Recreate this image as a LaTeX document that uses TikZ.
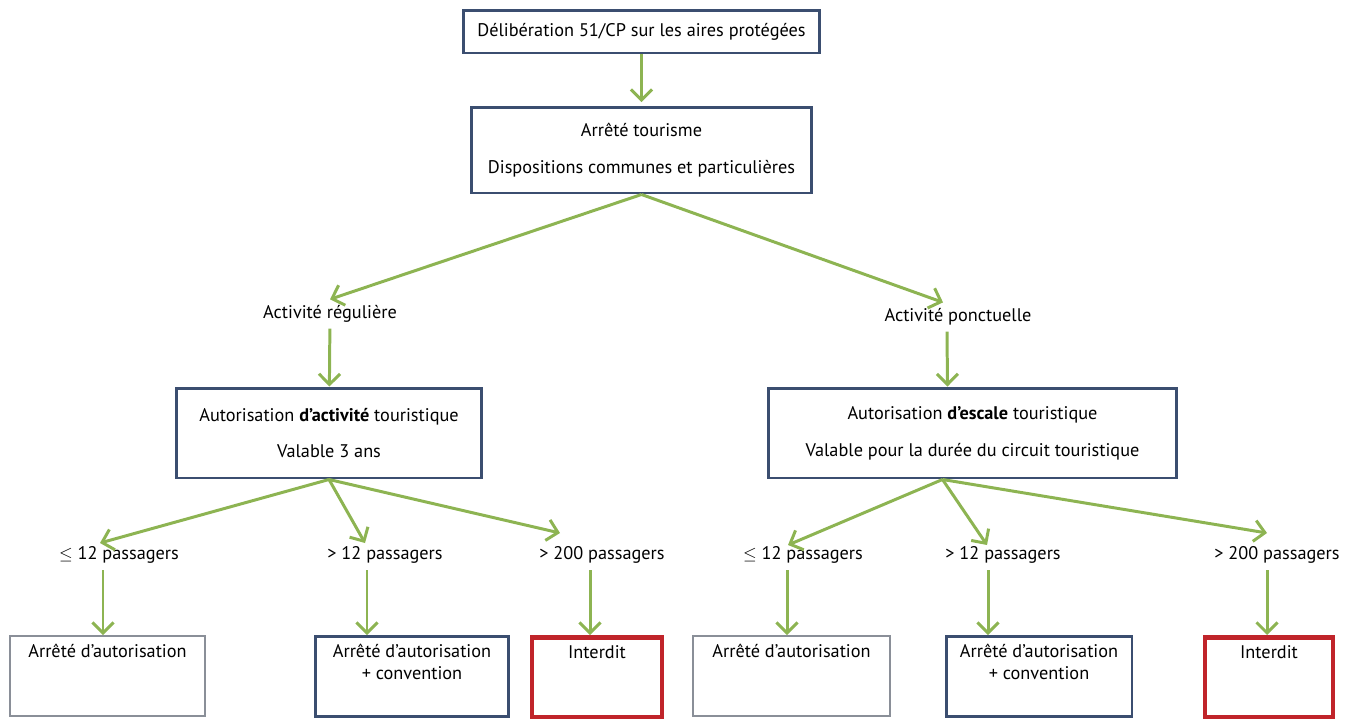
\documentclass[tikz,border=0pt]{standalone}
\usepackage{fontspec}
\setmainfont{PT Sans}
\usetikzlibrary{arrows.meta}

\definecolor{navy}{RGB}{59,78,112}
\definecolor{vert}{RGB}{141,180,82}
\definecolor{gris}{RGB}{138,143,152}
\definecolor{rouge}{RGB}{192,36,42}

\begin{document}
\begin{tikzpicture}[x=0.02cm, y=-0.02cm,
  every node/.style={font=\fontsize{10.4}{12.5}\selectfont},
  cadre/.style={draw=navy, line width=1.7pt, align=center, inner sep=0pt},
  fin/.style={draw=navy, line width=1.7pt, anchor=north, inner sep=0pt, minimum height=1.6cm, text height=0.42cm, text depth=1.18cm},
  fingris/.style={fin, draw=gris, line width=1.2pt},
  finrouge/.style={fin, draw=rouge, line width=2.8pt},
  fleche/.style={draw=vert, line width=1.7pt, -{Straight Barb[length=6pt,width=12pt]}}]

\useasboundingbox (0,0) rectangle (1359,718);

\node[cadre, minimum width=7.14cm, minimum height=0.86cm] (delib) at (641.5,31.5) {Délibération 51/CP sur les aires protégées};
\node[cadre, minimum width=6.82cm, minimum height=1.72cm] (arrete) at (641.5,150) {Arrêté tourisme\\[8.5pt] Dispositions communes et particulières};

\node (reg) at (330,314) {Activité régulière};
\node (ponct) at (958,317) {Activité ponctuelle};

\node[cadre, minimum width=6.12cm, minimum height=1.8cm] (autL) at (329,433) {Autorisation \textbf{d’activité} touristique\\[8.5pt] Valable 3 ans};
\node[cadre, minimum width=8.18cm, minimum height=1.8cm] (autR) at (972.5,433) {Autorisation \textbf{d’escale} touristique\\[8.5pt] Valable pour la durée du circuit touristique};

\node (lo1) at (119,555) {$\leq$ 12 passagers};
\node (lo2) at (385,555) {> 12 passagers};
\node (lo3) at (602,555) {> 200 passagers};
\node (ro1) at (803,555) {$\leq$ 12 passagers};
\node (ro2) at (1003,555) {> 12 passagers};
\node (ro3) at (1277,555) {> 200 passagers};

\node[fingris, minimum width=3.9cm] (b1) at (107.5,635) {Arrêté d’autorisation};
\node[fin, minimum width=3.88cm] (b2) at (412,635) {\begin{tabular}[t]{@{}c@{}}Arrêté d’autorisation\\+ convention\end{tabular}};
\node[finrouge, minimum width=2.6cm] (b3) at (597,635) {Interdit};
\node[fingris, minimum width=3.94cm] (b4) at (791.5,635) {Arrêté d’autorisation};
\node[fin, minimum width=3.72cm] (b5) at (1039,635) {\begin{tabular}[t]{@{}c@{}}Arrêté d’autorisation\\+ convention\end{tabular}};
\node[finrouge, minimum width=2.56cm] (b6) at (1269,635) {Interdit};

\coordinate (p1) at (100,543);
\coordinate (p2) at (365,543);
\coordinate (p3) at (560,533);
\coordinate (p4) at (788,545);
\coordinate (p5) at (987,545);
\coordinate (p6) at (1267,533);
\coordinate (q1) at (103,570);
\coordinate (q2) at (367,570);
\coordinate (q3) at (590,570);
\coordinate (q4) at (787,570);
\coordinate (q5) at (988,570);
\coordinate (q6) at (1267,570);

\draw[fleche, shorten >=2pt] (delib) -- (arrete);
\draw[fleche] (arrete.south) -- (reg.north);
\draw[fleche] (arrete.south) -- ([xshift=-0.3cm]ponct.north);
\draw[fleche] (reg) -- (autL);
\draw[fleche] ([xshift=-0.22cm]ponct.south) -- ([xshift=-0.5cm]autR.north);

\draw[fleche] (autL.south) -- (p1);
\draw[fleche] (autL.south) -- (p2);
\draw[fleche] (autL.south) -- (p3);
\draw[fleche] ([xshift=-0.6cm]autR.south) -- (p4);
\draw[fleche] ([xshift=-0.6cm]autR.south) -- (p5);
\draw[fleche] ([xshift=-0.6cm]autR.south) -- (p6);

\draw[fleche] (q1) -- (q1 |- b1.north);
\draw[fleche] (q2) -- (q2 |- b2.north);
\draw[fleche] (q3) -- (q3 |- b3.north);
\draw[fleche] (q4) -- (q4 |- b4.north);
\draw[fleche] (q5) -- (q5 |- b5.north);
\draw[fleche] (q6) -- (q6 |- b6.north);

\end{tikzpicture}
\end{document}
